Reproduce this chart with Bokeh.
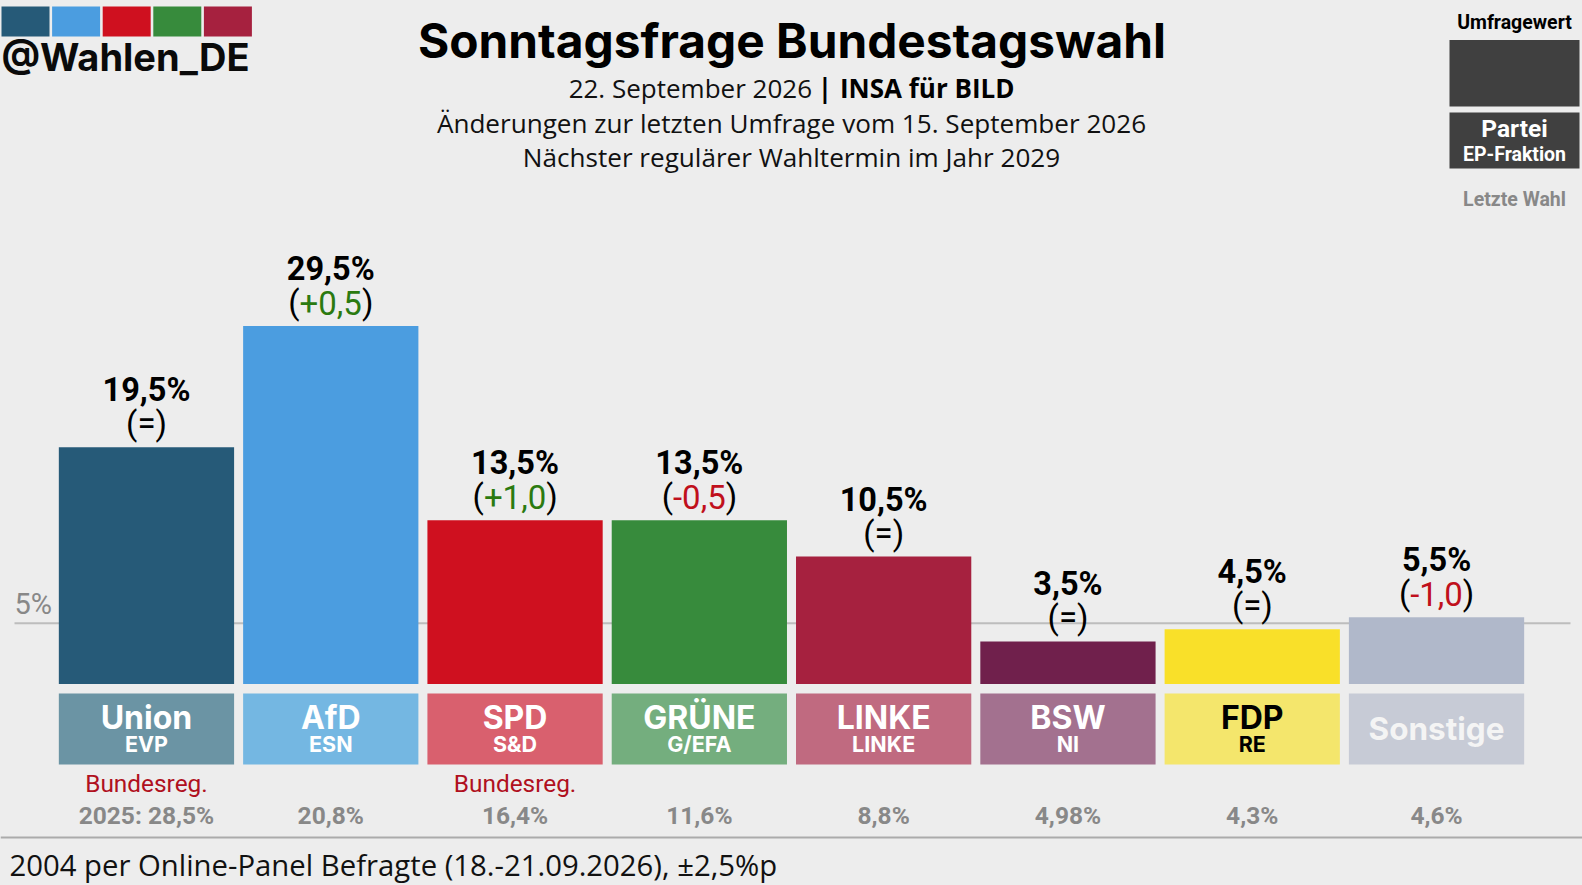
from bokeh.plotting import figure
from bokeh.core.properties import value
from bokeh.models import (ColumnDataSource, FactorRange, Range1d, Label, BoxAnnotation,
                          GlobalInlineStyleSheet)
from bokeh.embed import file_html
from bokeh.resources import INLINE

# ---------- data ----------
parties = ["Union", "AfD", "SPD", "GRÜNE", "LINKE", "BSW", "FDP", "Sonstige"]
fractions = ["EVP", "ESN", "S&D", "G/EFA", "LINKE", "NI", "RE", ""]
values = [19.5, 29.5, 13.5, 13.5, 10.5, 3.5, 4.5, 5.5]
value_labels = ["19,5%", "29,5%", "13,5%", "13,5%", "10,5%", "3,5%", "4,5%", "5,5%"]
changes = ["=", "+0,5", "+1,0", "-0,5", "=", "=", "=", "-1,0"]
last_election = ["2025: 28,5%", "20,8%", "16,4%", "11,6%", "8,8%", "4,98%", "4,3%", "4,6%"]
government = ["Bundesreg.", "", "Bundesreg.", "", "", "", "", ""]
colors = ["#265a78", "#4b9de0", "#cf101f", "#378b3c", "#a6213f", "#70204c", "#f9e029", "#b0b8ca"]
box_colors = ["#6b94a4", "#74b7e2", "#d9606e", "#74ae7e", "#c06a80", "#a3718f", "#f4e66c", "#c7cbd6"]
label_text_colors = ["#ffffff"] * 6 + ["#000000", "#f4f4f4"]
logo_colors = ["#265a78", "#4b9de0", "#cf101f", "#378b3c", "#a6213f"]
threshold = 5

title = "Sonntagsfrage Bundestagswahl"
date_text = "22. September 2026"
institute = "INSA für BILD"
line2 = "Änderungen zur letzten Umfrage vom 15. September 2026"
line3 = "Nächster regulärer Wahltermin im Jahr 2029"
footer = "2004 per Online-Panel Befragte (18.-21.09.2026), ±2,5%p"

# ---------- layout ----------
W, H = 1582, 885
BG = "#ededed"
PX_PER_PCT = 12.13
BASE_Y = 683.4        # page y of the zero line


def yv(page_y):
    """Page pixel row -> value axis."""
    return (BASE_Y - page_y) / PX_PER_PCT


def sy(page_y):
    return H - page_y


p = figure(width=W, height=H, output_backend="svg", toolbar_location=None,
           x_range=FactorRange(factors=parties, range_padding=0.292, range_padding_units="absolute"),
           y_range=Range1d(yv(H), yv(0)),
           min_border=0, min_border_left=0, min_border_right=0,
           min_border_top=0, min_border_bottom=0,
           background_fill_color=BG, border_fill_color=BG, outline_line_color=None)
p.axis.visible = False
p.grid.visible = False
p.stylesheets = [GlobalInlineStyleSheet(css="html,body{background:%s;}" % BG)]


def box(l, r, top, bottom, color):
    p.add_layout(BoxAnnotation(left=l, right=r, top=sy(top), bottom=sy(bottom),
                               left_units="screen", right_units="screen",
                               top_units="screen", bottom_units="screen",
                               fill_color=color, fill_alpha=1, line_color=None))


def label(x, page_y, text, size, color="#000000", font="Roboto", style="normal", align="center"):
    p.add_layout(Label(x=x, y=sy(page_y), x_units="screen", y_units="screen", text=text,
                       text_font=font, text_font_size=f"{size}px", text_font_style=style,
                       text_color=color, text_align=align, text_baseline="alphabetic"))


# threshold line and its label
p.add_layout(BoxAnnotation(left=14, right=1570, left_units="screen", right_units="screen",
                           top=threshold, bottom=threshold, fill_alpha=0,
                           line_color="#bdbdbd", line_alpha=1, line_width=2, level="underlay"))
label(14, 603, f"{threshold}%", 29, "#888888", align="left")

src = ColumnDataSource(dict(
    x=parties, top=values, color=colors, box_color=box_colors, value_label=value_labels,
    gov=government, last=last_election,
))
BAR_W = 0.951
p.vbar(x="x", top="top", bottom=0, width=BAR_W, color="color", line_color=None, source=src)
p.vbar(x="x", top=yv(693), bottom=yv(764), width=BAR_W, fill_color="box_color",
       line_color=None, source=src)

ROBOTO = value("Roboto")
INTER = value("Inter")

# value labels above bars
p.text(x="x", y="top", text="value_label", source=src, text_font=ROBOTO, text_font_style="bold",
       text_font_size="32.5px", text_color="#000000", text_align="center",
       text_baseline="alphabetic", y_offset=-57)

# change labels: black brackets, coloured middle
ADV = {"+": 0.568, "-": 0.276, ",": 0.196}
CHANGE_SIZE = 33


def half_width(s):
    return sum(ADV.get(c, 0.5615) for c in s) * CHANGE_SIZE / 2


mid_colors, left_off, right_off = [], [], []
for c in changes:
    if c == "=":
        mid_colors.append("#000000")
        w = 0.549 * CHANGE_SIZE / 2
    else:
        mid_colors.append("#2b7a10" if c.startswith("+") else "#c0101c")
        w = half_width(c)
    left_off.append(-w)
    right_off.append(w)
chg = ColumnDataSource(dict(x=parties, y=values, mid=changes, col=mid_colors,
                            lo=left_off, ro=right_off,
                            lb=["("] * len(parties), rb=[")"] * len(parties)))
common = dict(y="y", source=chg, text_font=ROBOTO, text_font_size=f"{CHANGE_SIZE}px",
              text_baseline="alphabetic", y_offset=-23.5)
p.text(x="x", text="mid", text_color="col", text_align="center", **common)
p.text(x="x", text="lb", text_color="#000000", text_align="right", x_offset="lo", **common)
p.text(x="x", text="rb", text_color="#000000", text_align="left", x_offset="ro", **common)

# party boxes' text
party_src = ColumnDataSource(dict(x=parties[:-1], party=parties[:-1], fraction=fractions[:-1],
                                  tcolor=label_text_colors[:-1]))
p.text(x="x", y=yv(716.5), text="party", source=party_src, text_font=INTER, text_font_style="bold",
       text_font_size="32px", text_color="tcolor", text_align="center", text_baseline="alphabetic")
p.text(x="x", y=yv(743), text="fraction", source=party_src, text_font=INTER, text_font_style="bold",
       text_font_size="21.5px", text_color="tcolor", text_align="center", text_baseline="alphabetic")
p.text(x=parties[-1:], y=[yv(728)], text=parties[-1:], text_font=INTER, text_font_style="bold",
       text_font_size="31.5px", text_color=label_text_colors[-1], text_align="center",
       text_baseline="alphabetic")

# below the boxes
p.text(x="x", y=yv(783), text="gov", source=src, text_font=ROBOTO, text_font_size="24.4px",
       text_color="#b01020", text_align="center", text_baseline="alphabetic")
p.text(x="x", y=yv(815), text="last", source=src, text_font=ROBOTO, text_font_style="bold",
       text_font_size="24.5px", text_color="#888888", text_align="center", text_baseline="alphabetic")

# footer rule
box(0, W, 836, 838, "#ababab")
label(9, 864, footer, 29.3, "#111111", font="Open Sans", align="left")

# heading
CX = 791.5
label(CX, 40, title, 47.8, "#000000", font="Inter", style="bold")
label(811.5, 87, date_text, 26, "#111111", font="Open Sans", align="right")
label(824.5, 87, "|", 26, "#000000", font="Open Sans", style="bold")
label(839.5, 87, institute, 26, "#000000", font="Open Sans", style="bold", align="left")
label(CX - 0.5, 122, line2, 26.1, "#111111", font="Open Sans")
label(CX - 0.5, 156, line3, 26.1, "#111111", font="Open Sans")

# logo
for i, c in enumerate(logo_colors):
    lft = 1 + i * 50.6
    box(lft, lft + 48, 6, 36, c)
label(1, 56, "@Wahlen_DE", 38, "#0a0a0a", font="Inter", style="bold", align="left")

# legend key
LCX = 1514
label(LCX, 22, "Umfragewert", 19.5, "#000000", style="bold")
box(1449, 1579, 39.5, 106, "#404040")
box(1449, 1579, 112, 168, "#404040")
label(LCX, 127.5, "Partei", 24.5, "#ffffff", style="bold")
label(LCX, 154, "EP-Fraktion", 19.5, "#ffffff", style="bold")
label(LCX, 199, "Letzte Wahl", 19.5, "#888888", style="bold")

open("out.html", "w").write(file_html(p, INLINE))
